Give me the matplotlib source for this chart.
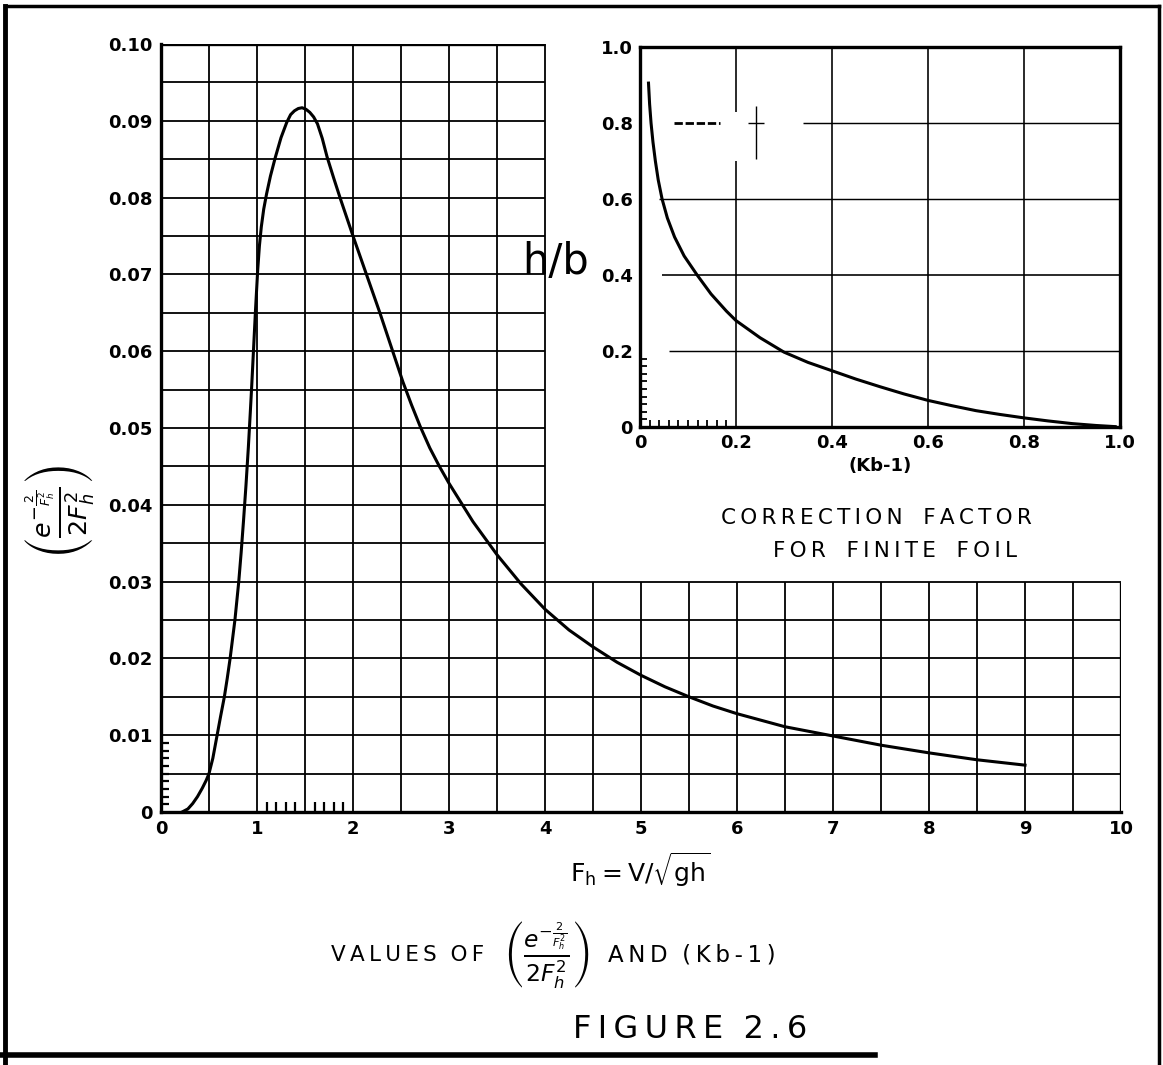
import matplotlib
matplotlib.use("Agg")
import matplotlib.pyplot as plt
from matplotlib.lines import Line2D
import numpy as np

plt.rcParams['font.family'] = ['DejaVu Sans']
plt.rcParams['mathtext.fontset'] = 'dejavusans'

# ---- main curve: e^(-2/Fh^2) / (2 Fh^2) ----
fh = [0.22, 0.28, 0.33, 0.38, 0.43, 0.47, 0.50, 0.54, 0.58, 0.62, 0.66, 0.69,
      0.72, 0.745, 0.77, 0.79, 0.81, 0.835, 0.86, 0.885, 0.91, 0.93, 0.945,
      0.965, 0.985, 1.007, 1.025, 1.045, 1.07, 1.10, 1.14, 1.19, 1.25, 1.31,
      1.35, 1.39, 1.43, 1.47, 1.51, 1.55, 1.59, 1.63, 1.68, 1.73, 1.80, 1.87,
      2.00, 2.14, 2.28, 2.40, 2.52, 2.61, 2.70, 2.80, 2.90, 3.00, 3.25, 3.50,
      3.75, 4.00, 4.25, 4.50, 4.75, 5.00, 5.25, 5.50, 5.75, 6.00, 6.50, 7.00,
      7.50, 8.00, 8.50, 9.00]
fval = [0.0, 0.0004, 0.0011, 0.0020, 0.0031, 0.0041, 0.0050, 0.0070, 0.0097,
        0.0124, 0.0150, 0.0174, 0.0200, 0.0225, 0.0250, 0.0275, 0.0300, 0.0338,
        0.0380, 0.0425, 0.0475, 0.0520, 0.0555, 0.0605, 0.0655, 0.0705, 0.0737,
        0.0762, 0.0785, 0.0805, 0.0828, 0.0852, 0.0878, 0.0898, 0.0908, 0.0913,
        0.0916, 0.0917, 0.0915, 0.0911, 0.0905, 0.0896, 0.0877, 0.0853, 0.0825,
        0.0798, 0.0750, 0.0700, 0.0650, 0.0605, 0.0560, 0.0530, 0.0502, 0.0474,
        0.0450, 0.0428, 0.0378, 0.0335, 0.0297, 0.0264, 0.0237, 0.0215, 0.0195,
        0.0178, 0.0163, 0.0150, 0.0138, 0.0128, 0.0111, 0.0099, 0.0087, 0.0077,
        0.0068, 0.0061]

# ---- inset curve: h/b against (Kb-1) ----
kb = [0.0177, 0.020, 0.023, 0.027, 0.032, 0.038, 0.046, 0.057, 0.072, 0.092,
      0.119, 0.148, 0.18, 0.20, 0.25, 0.30, 0.35, 0.40, 0.45, 0.50, 0.55,
      0.60, 0.65, 0.70, 0.75, 0.80, 0.85, 0.90, 0.95, 0.99]
hb = [0.905, 0.85, 0.80, 0.75, 0.70, 0.65, 0.60, 0.55, 0.50, 0.45, 0.40,
      0.35, 0.305, 0.28, 0.235, 0.197, 0.17, 0.148, 0.126, 0.106, 0.087,
      0.070, 0.056, 0.043, 0.033, 0.024, 0.016, 0.009, 0.004, 0.001]

main_xticks = list(range(11))
main_yticks = [0, 0.01, 0.02, 0.03, 0.04, 0.05, 0.06, 0.07, 0.08, 0.09, 0.10]
main_ylabels = ["0", "0.01", "0.02", "0.03", "0.04", "0.05", "0.06", "0.07",
                "0.08", "0.09", "0.10"]
inset_ticks = [0, 0.2, 0.4, 0.6, 0.8, 1.0]
inset_labels = ["0", "0.2", "0.4", "0.6", "0.8", "1.0"]

W, H = 1163, 1065
fig = plt.figure(figsize=(W / 100, H / 100), dpi=100)
fig.patch.set_facecolor("white")

GRID_LW = 1.3
FRAME_LW = 2.4
tick_font = dict(fontsize=13, fontweight="bold")
frac = r"$\left(\frac{e^{-\frac{2}{F_h^2}}}{2F_h^2}\right)$"


def spaced(s):
    # hand lettering is widely tracked: put a thin space between letters
    return "\u2009".join(s)


# ================= main axes =================
ax = fig.add_axes([161 / W, 1 - 812 / H, 960 / W, 768 / H])
ax.set_xlim(0, 10)
ax.set_ylim(0, 0.10)
for s in ("top", "right"):
    ax.spines[s].set_visible(False)
for s in ("left", "bottom"):
    ax.spines[s].set_linewidth(FRAME_LW)

# grid: upper right block (x>4, y>0.03) is left empty for the inset
for xv in np.arange(0.5, 10.01, 0.5):
    top = 0.10 if xv <= 4.0 + 1e-9 else 0.03
    lw = FRAME_LW if xv == 10 else GRID_LW
    ax.vlines(xv, 0, top, color="black", lw=lw, zorder=1)
for yv in np.arange(0.005, 0.1001, 0.005):
    right = 10 if yv <= 0.03 + 1e-9 else 4
    lw = FRAME_LW if abs(yv - 0.1) < 1e-9 else GRID_LW
    ax.hlines(yv, 0, right, color="black", lw=lw, zorder=1)

ax.plot(fh, fval, color="black", lw=2.2, zorder=3, solid_joinstyle="round")

ax.set_xticks(main_xticks)
ax.set_xticklabels([str(v) for v in main_xticks], **tick_font)
ax.set_yticks(main_yticks)
ax.set_yticklabels(main_ylabels, **tick_font)
ax.tick_params(which="major", length=0, pad=6)
ax.set_xticks([1.1, 1.2, 1.3, 1.4, 1.6, 1.7, 1.8, 1.9], minor=True)
ax.set_yticks(np.arange(0.001, 0.0095, 0.001), minor=True)
ax.tick_params(which="minor", direction="in", length=6, width=1.6)
ax.tick_params(axis="x", which="minor", length=7)

# ================= inset =================
ins = fig.add_axes([640 / W, 1 - 427 / H, 480 / W, 380 / H])
ins.set_xlim(0, 1)
ins.set_ylim(0, 1)
for s in ins.spines.values():
    s.set_linewidth(FRAME_LW)

for xv in (0.4, 0.6, 0.8):
    ins.vlines(xv, 0, 1, color="black", lw=GRID_LW * 0.9)
ins.vlines(0.2, 0, 0.70, color="black", lw=GRID_LW * 0.9)
ins.vlines(0.2, 0.83, 1, color="black", lw=GRID_LW * 0.9)
ins.hlines(0.2, 0.06, 1, color="black", lw=GRID_LW * 0.8)
ins.hlines(0.4, 0.046, 1, color="black", lw=GRID_LW * 0.9)
ins.hlines(0.6, 0.04, 1, color="black", lw=GRID_LW * 0.8)
ins.hlines(0.8, 0.34, 1, color="black", lw=GRID_LW * 0.8)
# stray marks on the 0.8 line
ins.hlines(0.8, 0.07, 0.166, color="black", lw=2.0, linestyles=(0, (3, 1)))
ins.hlines(0.8, 0.225, 0.258, color="black", lw=1.0)
ins.vlines(0.242, 0.705, 0.845, color="black", lw=1.0)

ins.plot(kb, hb, color="black", lw=2.2, zorder=3, solid_joinstyle="round")

ins.set_xticks(inset_ticks)
ins.set_xticklabels(inset_labels, **tick_font)
ins.set_yticks(inset_ticks)
ins.set_yticklabels(inset_labels, **tick_font)
ins.tick_params(which="major", length=0, pad=5)
ins.set_xticks(np.arange(0.02, 0.19, 0.02), minor=True)
ins.set_yticks(np.arange(0.02, 0.19, 0.02), minor=True)
ins.tick_params(which="minor", direction="in", length=5, width=1.3)

# ================= texts =================
fig.text(556 / W, 1 - 262 / H, "h/b", fontsize=30, ha="center", va="center")
fig.text(880 / W, 1 - 466 / H, "(Kb-1)", fontsize=13, fontweight="bold",
         ha="center", va="center")
fig.text(876 / W, 1 - 518 / H, spaced("CORRECTION") + "   " + spaced("FACTOR"),
         fontsize=15.5, ha="center", va="center")
fig.text(895 / W, 1 - 551 / H,
         spaced("FOR") + "   " + spaced("FINITE") + "   " + spaced("FOIL"),
         fontsize=15.5, ha="center", va="center")

fig.text(640 / W, 1 - 870 / H, r"$\mathrm{F_h = V/\sqrt{gh}}$", fontsize=18,
         ha="center", va="center")
fig.text(60 / W, 1 - 512 / H, frac, fontsize=26, rotation=90,
         ha="center", va="center")

# title line in three pieces so the fraction can be larger
fig.text(484 / W, 1 - 955 / H, spaced("VALUES") + "  " + spaced("OF"),
         fontsize=15.5, ha="right", va="center")
fig.text(546 / W, 1 - 955 / H, frac, fontsize=24, ha="center", va="center")
fig.text(608 / W, 1 - 955 / H, spaced("AND") + "  " + spaced("(Kb-1)"),
         fontsize=16.5, ha="left", va="center")
fig.text(690 / W, 1 - 1030 / H, spaced("FIGURE") + "  " + spaced("2.6"),
         fontsize=23, ha="center", va="center")

# page frame and underline
fig.add_artist(Line2D([0, 875 / W], [1 - 1055 / H] * 2, color="black", lw=4))
fig.add_artist(Line2D([5 / W] * 2, [0, 1 - 6 / H], color="black", lw=3.5))
fig.add_artist(Line2D([1159 / W] * 2, [0, 1 - 6 / H], color="black", lw=2.5))
fig.add_artist(Line2D([5 / W, 1159 / W], [1 - 6 / H] * 2, color="black",
                      lw=2.5))

fig.savefig("out.png", dpi=100, facecolor="white")
